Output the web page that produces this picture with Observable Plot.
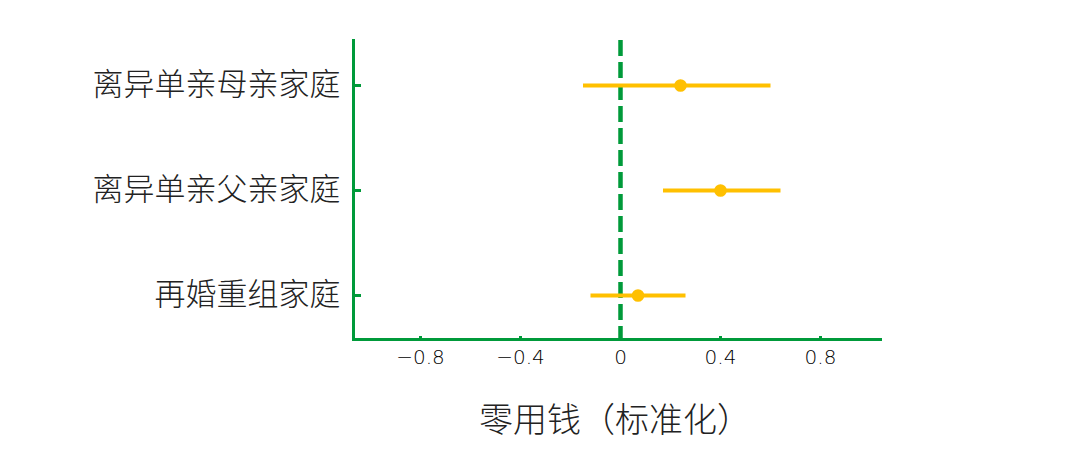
<!DOCTYPE html>
<html>
<head>
<meta charset="utf-8">
<script src="https://cdn.jsdelivr.net/npm/d3@7"></script>
<script src="https://cdn.jsdelivr.net/npm/@observablehq/plot@0.6"></script>
<style>
  html, body { margin: 0; padding: 0; background: #fff; }
  #chart svg { display: block; }
</style>
</head>
<body>
<div id="chart"></div>
<script>
const categories = ["离异单亲母亲家庭", "离异单亲父亲家庭", "再婚重组家庭"];
const estimates = [0.24, 0.40, 0.07];
const lower = [-0.15, 0.17, -0.12];
const upper = [0.60, 0.64, 0.26];
const xTicks = [-0.8, -0.4, 0, 0.4, 0.8];
const xLabel = "零用钱（标准化）";

const green = "#009a3a";
const yellow = "#ffc000";
const font = "'Noto Sans CJK SC', 'Noto Sans', sans-serif";
const numFont = "'DejaVu Sans', sans-serif";

const rows = categories.map((c, i) => ({cat: c, est: estimates[i], lo: lower[i], hi: upper[i]}));

const chart = Plot.plot({
  width: 1080,
  height: 455,
  marginLeft: 353,
  marginRight: 200,
  marginTop: 40,
  marginBottom: 116,
  style: {fontFamily: font, background: "#fff"},
  x: {domain: [-1.068, 1.04]},
  y: {type: "point", domain: categories, padding: 0.42},
  marks: [
    Plot.axisX({ticks: xTicks, tickSize: -3, strokeWidth: 3, stroke: green, tickPadding: 13,
      tickFormat: d => d === 0 ? "0" : d3.format(".1f")(d).replace("-", "\u2212"),
      fontSize: 20, fontWeight: 200, fill: "#000", fontFamily: numFont, label: null}),
    Plot.axisY({tickSize: -8, tickPadding: 21, strokeWidth: 3, stroke: green,
      fontSize: 31, fontWeight: 300, fill: "#222", label: null}),
    Plot.frame({anchor: "left", stroke: green, strokeWidth: 3}),
    Plot.frame({anchor: "bottom", stroke: green, strokeWidth: 3}),
    Plot.ruleX([0], {stroke: green, strokeWidth: 4.5, strokeDasharray: "16,6"}),
    Plot.link(rows, {x1: "lo", x2: "hi", y1: "cat", y2: "cat", stroke: yellow, strokeWidth: 4}),
    Plot.dot(rows, {x: "est", y: "cat", r: 6.3, fill: yellow, stroke: "none"}),
    Plot.text([xLabel], {frameAnchor: "bottom", dy: 92, dx: -2, fontSize: 34, fontWeight: 300, fill: "#222", fontFamily: font})
  ]
});
document.getElementById("chart").appendChild(chart);
</script>
</body>
</html>
